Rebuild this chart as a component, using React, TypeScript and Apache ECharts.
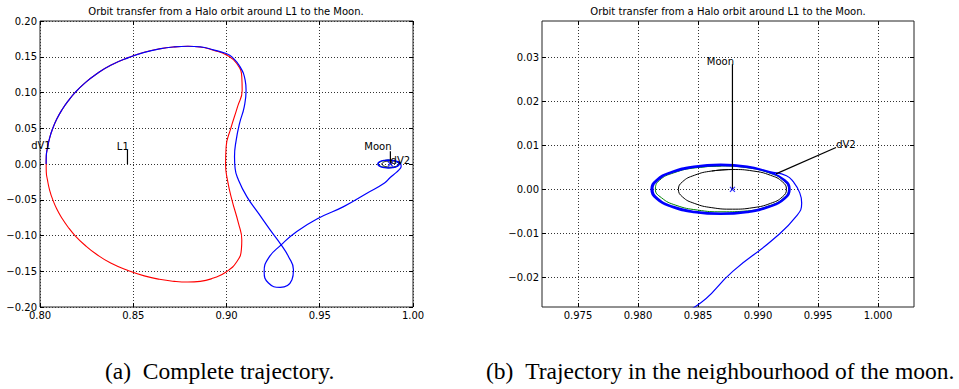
import { useEffect, useRef } from "react";
import * as echarts from "echarts";

type Pt = [number, number];

// Halo orbit around L1, projected on the rotating x-y plane
const haloOrbit: Pt[] = [
  [0.8033, 0.0], [0.80337, 0.0112], [0.804, 0.0223], [0.80515, 0.0363], [0.8069, 0.0502],
  [0.809, 0.0628], [0.8117, 0.0754], [0.815, 0.0879], [0.819, 0.1005], [0.824, 0.1131],
  [0.8301, 0.1256], [0.8379, 0.1382], [0.8478, 0.1492], [0.8559, 0.1562], [0.864, 0.161],
  [0.872, 0.1638], [0.8793, 0.1647], [0.8859, 0.1637], [0.893, 0.1591], [0.9002, 0.1521],
  [0.9055, 0.1405], [0.9082, 0.1218], [0.9084, 0.1033], [0.9059, 0.08], [0.9023, 0.0498],
  [0.8998, 0.0242], [0.8995, 0.0], [0.9005, -0.0223], [0.9029, -0.0502], [0.9064, -0.0828],
  [0.9082, -0.1061], [0.908, -0.1191], [0.9056, -0.1363], [0.8998, -0.151], [0.893, -0.1595],
  [0.8859, -0.1642], [0.8793, -0.1651], [0.872, -0.1641], [0.864, -0.1613], [0.8559, -0.1565],
  [0.8478, -0.1495], [0.8379, -0.1385], [0.8301, -0.1259], [0.824, -0.1133], [0.819, -0.1007],
  [0.815, -0.0881], [0.8117, -0.0755], [0.809, -0.0629], [0.8069, -0.0503], [0.80515, -0.0364],
  [0.804, -0.0223], [0.80337, -0.0112], [0.8033, 0.0], [0.80337, 0.0112],
];

// Transfer arc from the dV1 burn to the approach of the Moon
const transferArc: Pt[] = [
  [0.8033, 0.0], [0.80337, 0.0112], [0.804, 0.0223], [0.80515, 0.0363], [0.8069, 0.0502],
  [0.809, 0.0628], [0.8117, 0.0754], [0.815, 0.0879], [0.819, 0.1005], [0.824, 0.1131],
  [0.8301, 0.1256], [0.8379, 0.1382], [0.8478, 0.1492], [0.8559, 0.1562], [0.864, 0.161],
  [0.872, 0.1638], [0.8793, 0.1647], [0.8859, 0.1639], [0.893, 0.1597], [0.8998, 0.1545],
  [0.9029, 0.1498], [0.9073, 0.1358], [0.91, 0.1172], [0.9105, 0.1033], [0.9095, 0.08],
  [0.907, 0.0568], [0.9052, 0.0335], [0.9043, 0.0102], [0.9046, -0.006], [0.9064, -0.0223],
  [0.9109, -0.0456], [0.9171, -0.0688], [0.9234, -0.0921], [0.9293, -0.1131], [0.9332, -0.1293],
  [0.9359, -0.1479], [0.9351, -0.1619], [0.9288, -0.1726], [0.9225, -0.1665], [0.9202, -0.1503],
  [0.9225, -0.1316], [0.9293, -0.1131], [0.9377, -0.0945], [0.9493, -0.0758], [0.9628, -0.0596],
  [0.9753, -0.0409], [0.98473, -0.0267], [0.98792, -0.01855], [0.99125, -0.01138], [0.9932, -0.0061],
  [0.99364, -0.0031], [0.99348, -0.0008], [0.99292, 0.0018], [0.99237, 0.0031],
];

// Revolutions around the Moon after the dV2 burn
const captureLoops: Pt[] = [
  [0.99098, 0.00403], [0.9891, 0.00527], [0.98688, 0.0057], [0.98466, 0.00527], [0.98278, 0.00403],
  [0.98152, 0.00218], [0.98108, 0], [0.98152, -0.00218], [0.98278, -0.00403], [0.98466, -0.00527],
  [0.98688, -0.0057], [0.9891, -0.00527], [0.99098, -0.00403], [0.99224, -0.00218], [0.99268, 0],
  [0.99224, 0.00218],
  [0.99093, 0.00392], [0.98908, 0.00513], [0.98689, 0.00555], [0.9847, 0.00513], [0.98285, 0.00392],
  [0.98161, 0.00212], [0.98117, 0], [0.98161, -0.00212], [0.98285, -0.00392], [0.9847, -0.00513],
  [0.98689, -0.00555], [0.98908, -0.00513], [0.99093, -0.00392], [0.99217, -0.00212], [0.99261, 0],
  [0.99217, 0.00212],
  [0.9909, 0.00382], [0.98906, 0.00499], [0.9869, 0.0054], [0.98474, 0.00499], [0.9829, 0.00382],
  [0.98168, 0.00207], [0.98125, 0], [0.98168, -0.00207], [0.9829, -0.00382], [0.98474, -0.00499],
  [0.9869, -0.0054], [0.98906, -0.00499], [0.9909, -0.00382], [0.99212, -0.00207], [0.99255, 0],
  [0.99212, 0.00207], [0.9909, 0.00382], [0.98906, 0.00499],
];

// Reference lunar orbit (green)
const lunarReference: Pt[] = [
  [0.98695, 0.0053], [0.98481, 0.0049], [0.98299, 0.00375], [0.98178, 0.00203], [0.98145, 0],
  [0.98195, -0.0019], [0.98315, -0.0036], [0.98495, -0.0047], [0.987, -0.0051], [0.98911, -0.0049],
  [0.99091, -0.00375], [0.99212, -0.00203], [0.99255, 0], [0.99212, 0.00203], [0.99091, 0.00375],
  [0.98909, 0.0049], [0.98695, 0.0053], [0.98481, 0.0049],
];

// Target circle of radius 0.0045 around the Moon (black)
const targetCircle: Pt[] = [
  [0.98787, 0.0045], [0.98615, 0.00416], [0.98469, 0.00318], [0.98371, 0.00172], [0.98337, 0],
  [0.98371, -0.00172], [0.98469, -0.00318], [0.98615, -0.00416], [0.98787, -0.0045], [0.98959, -0.00416],
  [0.99105, -0.00318], [0.99203, -0.00172], [0.99237, 0], [0.99203, 0.00172], [0.99105, 0.00318],
  [0.98959, 0.00416], [0.98787, 0.0045], [0.98615, 0.00416],
];

const moon: Pt = [0.98787, 0];
const l1: Pt = [0.8469, 0];

type Note = { name: string; at: Pt; tip?: Pt; target?: Pt };

const fullNotes: Note[] = [
  { name: "dV1", at: [0.8005, 0.0265] },
  { name: "L1", at: [0.8444, 0.0251], tip: [0.8469, 0.0195], target: l1 },
  { name: "Moon", at: [0.9812, 0.0241], tip: [0.98787, 0.018], target: moon },
  { name: "dV2", at: [0.9932, 0.0046] },
];

const zoomNotes: Note[] = [
  { name: "Moon", at: [0.98687, 0.0291], tip: [0.98787, 0.0284], target: moon },
  { name: "dV2", at: [0.99733, 0.0101], tip: [0.9965, 0.0095], target: [0.9915, 0.0035] },
];

const zoomXTicks = [0.975, 0.98, 0.985, 0.99, 0.995, 1.0];
const zoomYTicks = [-0.02, -0.01, 0, 0.01, 0.02, 0.03];

const TITLE = "Orbit transfer from a Halo orbit around L1 to the Moon.";
const CAPTION_A = "(a)\u2002Complete trajectory.";
const CAPTION_B = "(b)\u2002Trajectory in the neighbourhood of the moon.";

const SANS = "DejaVu Sans";

const fmt = (digits: number) => (v: number) =>
  (Math.abs(v) < 1e-9 ? 0 : v).toFixed(digits).replace("-", "\u2212");

type Range = { min: number; max: number; interval?: number; ticks?: number[]; digits: number };

function axisPair(kind: "x" | "y", gridIndex: number, r: Range) {
  const common: any = {
    type: "value",
    gridIndex,
    min: r.min,
    max: r.max,
    axisLine: { show: false, onZero: false },
    axisTick: {
      show: true,
      inside: true,
      length: 4,
      lineStyle: { color: "#000", width: 1 },
      ...(r.ticks ? { customValues: r.ticks } : {}),
    },
  };
  if (r.interval) common.interval = r.interval;
  const main = {
    ...common,
    position: kind === "x" ? "bottom" : "left",
    axisLabel: {
      show: true,
      fontFamily: SANS,
      fontSize: 10,
      color: "#000",
      margin: 3,
      formatter: fmt(r.digits),
      showMinLabel: true,
      showMaxLabel: true,
      ...(r.ticks ? { customValues: r.ticks } : {}),
    },
    splitLine: { show: true, lineStyle: { color: "#333", width: 1, type: [1, 2] } },
  };
  const mirror = {
    ...common,
    position: kind === "x" ? "top" : "right",
    axisLabel: { show: false },
    splitLine: { show: false },
  };
  return [main, mirror];
}

function panelSeries(panel: number, notes: Note[]) {
  const xi = panel * 2;
  const base = { xAxisIndex: xi, yAxisIndex: xi, silent: true, animation: false };
  const curve = (data: Pt[], color: string, width: number, z: number) => ({
    ...base,
    type: "line",
    data,
    showSymbol: false,
    symbol: "none",
    smooth: 0.5,
    z,
    lineStyle: { color, width },
  });
  const list: any[] = [
    curve(haloOrbit, "#ff0000", 1.1, 2),
    curve(targetCircle, "#000000", 1, 3),
    curve(lunarReference, "#008000", 1, 4),
    curve([...transferArc, ...captureLoops], "#0000ff", 1.2, 5),
  ];
  notes
    .filter((n) => n.tip && n.target)
    .forEach((n) =>
      list.push({
        ...base,
        type: "line",
        data: [n.tip, n.target],
        showSymbol: false,
        symbol: "none",
        z: 6,
        lineStyle: { color: "#000", width: 1.2 },
      })
    );
  list.push({
    ...base,
    type: "scatter",
    data: [moon],
    symbol: "path://M0,0L10,10M10,0L0,10",
    symbolSize: 5,
    z: 7,
    itemStyle: { color: "none", borderColor: "#0000ff", borderWidth: 1.2 },
  });
  list.push({
    ...base,
    type: "scatter",
    clip: false,
    symbolSize: 1,
    z: 8,
    itemStyle: { color: "#ffffff", opacity: 1 },
    label: {
      show: true,
      position: "inside",
      formatter: "{b}",
      fontFamily: SANS,
      fontSize: 10,
      color: "#000000",
      opacity: 1,
      textBorderWidth: 0,
      textBorderColor: "transparent",
      textShadowBlur: 0,
    },
    data: notes.map((n) => ({ name: n.name, value: n.at })),
  });
  return list;
}

export default function App() {
  const ref = useRef<HTMLDivElement>(null);

  useEffect(() => {
    if (!ref.current) return;
    document.body.style.margin = "0";
    const chart = echarts.init(ref.current, undefined, { renderer: "svg" });

    const [fx, fxTop] = axisPair("x", 0, { min: 0.8, max: 1.0, interval: 0.05, digits: 2 });
    const [fy, fyRight] = axisPair("y", 0, { min: -0.2, max: 0.2, interval: 0.05, digits: 2 });
    const [zx, zxTop] = axisPair("x", 1, { min: 0.972, max: 1.003, ticks: zoomXTicks, digits: 3 });
    const [zy, zyRight] = axisPair("y", 1, { min: -0.0267, max: 0.0382, ticks: zoomYTicks, digits: 2 });

    const gridStyle = { show: true, borderColor: "#222", borderWidth: 1, backgroundColor: "transparent" };
    const titleStyle = { fontFamily: SANS, fontSize: 10, fontWeight: "normal" as const, color: "#000" };
    const captionFont = '23.5px "Liberation Serif"';

    chart.setOption({
      animation: false,
      title: [
        { text: TITLE, left: 226, top: 6, textAlign: "center", padding: 0, textStyle: titleStyle },
        { text: TITLE, left: 728, top: 6, textAlign: "center", padding: 0, textStyle: titleStyle },
      ],
      grid: [
        { left: 40, top: 21, width: 373, height: 286, ...gridStyle },
        { left: 542, top: 21, width: 372, height: 286, ...gridStyle },
      ],
      xAxis: [fx, fxTop, zx, zxTop],
      yAxis: [fy, fyRight, zy, zyRight],
      series: [...panelSeries(0, fullNotes), ...panelSeries(1, zoomNotes)],
      graphic: [
        {
          type: "text",
          x: 105,
          y: 371,
          style: { text: CAPTION_A, font: captionFont, fill: "#000", verticalAlign: "middle" },
        },
        {
          type: "text",
          x: 486,
          y: 371,
          style: { text: CAPTION_B, font: captionFont, fill: "#000", verticalAlign: "middle" },
        },
      ],
    });

    return () => chart.dispose();
  }, []);

  return (
    <div
      ref={ref}
      style={{ position: "fixed", left: 0, top: 0, width: 959, height: 389, background: "#fff" }}
    />
  );
}
